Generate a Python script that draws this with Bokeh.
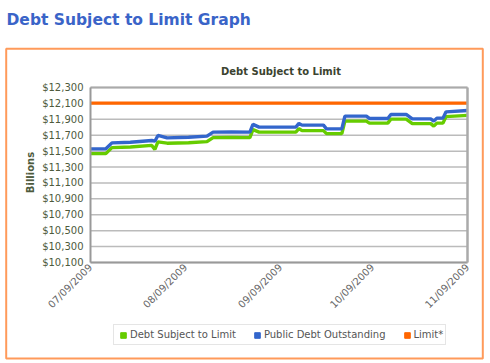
import math
from datetime import datetime
from bokeh.plotting import figure
from bokeh.models import (Range1d, FixedTicker, NumeralTickFormatter, DatetimeTickFormatter,
                          DatetimeAxis, LinearAxis, Legend, LegendItem, Label, BoxAnnotation,
                          ColumnDataSource)
from bokeh.embed import file_html
from bokeh.resources import INLINE

# ---------------- data (billions of dollars) ----------------
dates = ["2009-07-09", "2009-07-14", "2009-07-16", "2009-07-22", "2009-07-29", "2009-07-30",
         "2009-07-31", "2009-08-03", "2009-08-10", "2009-08-16", "2009-08-18", "2009-08-24",
         "2009-08-30", "2009-08-31", "2009-09-02", "2009-09-14", "2009-09-15", "2009-09-16",
         "2009-09-23", "2009-09-24", "2009-09-29", "2009-09-30", "2009-10-07", "2009-10-08",
         "2009-10-14", "2009-10-15", "2009-10-20", "2009-10-22", "2009-10-28", "2009-10-29",
         "2009-10-30", "2009-11-01", "2009-11-02", "2009-11-09"]
public_debt = [11529, 11529, 11604, 11612, 11634, 11625, 11697, 11667, 11675, 11689, 11739, 11740,
               11739, 11836, 11802, 11802, 11848, 11827, 11827, 11780, 11780, 11940, 11940, 11911,
               11911, 11961, 11961, 11906, 11906, 11877, 11915, 11915, 11994, 12011]
debt_subject = [11469, 11469, 11544, 11552, 11572, 11521, 11617, 11600, 11606, 11619, 11670, 11671,
                11670, 11770, 11739, 11739, 11783, 11758, 11758, 11720, 11720, 11877, 11877, 11852,
                11852, 11902, 11902, 11846, 11846, 11814, 11852, 11852, 11934, 11949]
limit_dates = ["2009-07-09", "2009-11-09"]
limit_values = [12104, 12104]
y_ticks = [10100, 10300, 10500, 10700, 10900, 11100, 11300, 11500, 11700, 11900, 12100, 12300]
x_tick_labels = ["07/09/2009", "08/09/2009", "09/09/2009", "10/09/2009", "11/09/2009"]
series_names = ["Debt Subject to Limit", "Public Debt Outstanding", "Limit*"]
series_colors = ["#66cc00", "#3366cc", "#ff6600"]
page_title = "Debt Subject to Limit Graph"
chart_title = "Debt Subject to Limit"
y_title = "Billions"

# ---------------- layout (pixels in the 490x363 page) ----------------
W, H = 490, 363
PL, PR, PT, PB = 90, 467, 87, 262          # plot area edges
FONT = "DejaVu Sans"

def to_dt(s):
    return datetime.strptime(s, "%Y-%m-%d")

def to_ms(d):
    return (d - datetime(1970, 1, 1)).total_seconds() * 1000.0

x_ticks_dt = [datetime.strptime(t, "%m/%d/%Y") for t in x_tick_labels]
x0, x1 = x_ticks_dt[0], x_ticks_dt[-1]
y0, y1 = y_ticks[0], y_ticks[-1]
xs_per_px = (x1 - x0) / (PR - PL)
ys_per_px = (y1 - y0) / (PB - PT)
x_range = Range1d(x0 - xs_per_px * PL, x1 + xs_per_px * (W - PR))
y_range = Range1d(y0 - ys_per_px * (H - PB), y1 + ys_per_px * PT)

src = ColumnDataSource(data=dict(date=[to_dt(d) for d in dates],
                                 public=public_debt, subject=debt_subject))
lim_src = ColumnDataSource(data=dict(date=[to_dt(d) for d in limit_dates], limit=limit_values))
grid_src = ColumnDataSource(data=dict(x0=[x0] * len(y_ticks), x1=[x1] * len(y_ticks), y=y_ticks))

# the frame covers the whole page; axes are pinned inside it
p = figure(output_backend="svg", toolbar_location=None, title=None,
           frame_width=W, frame_height=H,
           min_border_left=0, min_border_right=0, min_border_top=0, min_border_bottom=0,
           x_axis_location=None, y_axis_location=None,
           x_range=x_range, y_range=y_range)
p.background_fill_color = "white"
p.border_fill_color = "white"
p.outline_line_color = None
p.grid.visible = False

# horizontal grid lines at the y ticks, across the plot area only
p.segment(x0="x0", y0="y", x1="x1", y1="y", source=grid_src,
          line_color="#bbbbbb", line_width=1.5)

# series
p.line("date", "subject", source=src, line_color=series_colors[0], line_width=3.4)
p.line("date", "public", source=src, line_color=series_colors[1], line_width=3.4)
p.line("date", "limit", source=lim_src, line_color=series_colors[2], line_width=3.4)

# left axis
yax = LinearAxis(fixed_location=to_ms(x0), bounds=(y0, y1),
                 ticker=FixedTicker(ticks=y_ticks), formatter=NumeralTickFormatter(format="$0,0"),
                 major_label_text_font=FONT, major_label_text_font_size="10px",
                 major_label_text_color="#4d5a3c", major_label_standoff=7,
                 axis_line_color="#999999", axis_line_width=2,
                 major_tick_line_color=None, minor_tick_line_color=None,
                 major_tick_out=0, major_tick_in=0)
p.add_layout(yax, "left")

# bottom axis
fmt = "%m/%d/%Y"
xax = DatetimeAxis(fixed_location=y0, bounds=(x0, x1),
                   ticker=FixedTicker(ticks=[to_ms(d) for d in x_ticks_dt]),
                   formatter=DatetimeTickFormatter(milliseconds=fmt, seconds=fmt, minsec=fmt,
                                                   minutes=fmt, hourmin=fmt, hours=fmt,
                                                   days=fmt, months=fmt, years=fmt),
                   major_label_orientation=math.pi / 4,
                   major_label_text_font=FONT, major_label_text_font_size="10px",
                   major_label_text_color="#666666", major_label_standoff=3,
                   axis_line_color="#999999", axis_line_width=2,
                   major_tick_line_color=None, minor_tick_line_color=None,
                   major_tick_out=0, major_tick_in=0)
p.add_layout(xax, "below")

# top and right borders of the plot area (bare axis rules)
top_rule = DatetimeAxis(fixed_location=y1, bounds=(x0, x1), ticker=FixedTicker(ticks=[]),
                        axis_line_color="#aaaaaa", axis_line_width=2,
                        major_tick_line_color=None, minor_tick_line_color=None,
                        major_tick_out=0, major_tick_in=0)
p.add_layout(top_rule, "above")
right_rule = LinearAxis(fixed_location=to_ms(x1), bounds=(y0, y1), ticker=FixedTicker(ticks=[]),
                        axis_line_color="#aaaaaa", axis_line_width=2.5,
                        major_tick_line_color=None, minor_tick_line_color=None,
                        major_tick_out=0, major_tick_in=0)
p.add_layout(right_rule, "right")

# orange box round the chart
p.add_layout(BoxAnnotation(left=5.7, right=482.3, top=H - 48.3, bottom=H - 358,
                           left_units="screen", right_units="screen",
                           top_units="screen", bottom_units="screen",
                           fill_alpha=0, line_color="#ff9a5a", line_alpha=1.0, line_width=2,
                           level="underlay"))

# titles
p.add_layout(Label(x=6, y=H - 19.5, x_units="screen", y_units="screen", text=page_title,
                   text_font=FONT, text_font_style="bold", text_font_size="15.5px",
                   text_color="#3a64c8", text_align="left", text_baseline="alphabetic"))
p.add_layout(Label(x=280.5, y=H - 71, x_units="screen", y_units="screen", text=chart_title,
                   text_font=FONT, text_font_style="bold", text_font_size="10px",
                   text_color="#3b4330", text_align="center", text_baseline="middle"))
p.add_layout(Label(x=30, y=H - 172, x_units="screen", y_units="screen", text=y_title,
                   angle=math.pi / 2, text_font=FONT, text_font_style="bold",
                   text_font_size="10px", text_color="#4d5a3c",
                   text_align="center", text_baseline="middle"))

# legend swatches: zero-size square markers on each series' first point
swatch_src = [ColumnDataSource(data=dict(date=[to_dt(dates[0])], v=[debt_subject[0]])),
              ColumnDataSource(data=dict(date=[to_dt(dates[0])], v=[public_debt[0]])),
              ColumnDataSource(data=dict(date=[to_dt(limit_dates[0])], v=[limit_values[0]]))]
swatches = [p.scatter("date", "v", source=s, marker="square", size=0, color=c)
            for s, c in zip(swatch_src, series_colors)]
legend = Legend(items=[LegendItem(label=n, renderers=[r]) for n, r in zip(series_names, swatches)],
                orientation="horizontal", location=(113, H - 345),
                glyph_width=14, glyph_height=14, label_standoff=0, spacing=14,
                padding=2, margin=0, label_height=15,
                label_text_font=FONT, label_text_font_size="10px", label_text_color="#555555",
                border_line_color="#cccccc", border_line_width=1,
                background_fill_color="white", background_fill_alpha=1.0)
p.add_layout(legend, "center")

open("out.html", "w").write(file_html(p, INLINE))
